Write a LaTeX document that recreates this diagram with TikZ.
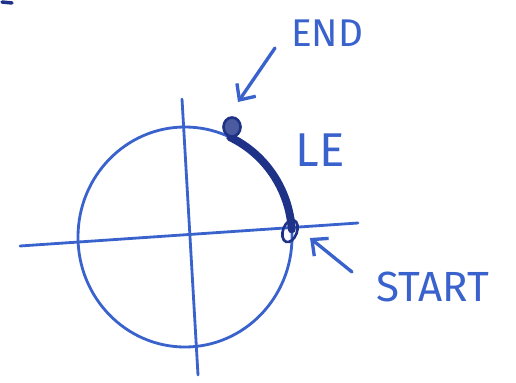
\documentclass[tikz,border=0pt]{standalone}
\usepackage{fontspec}
\setsansfont{Fira Sans}
\usetikzlibrary{shapes.geometric, arrows.meta, positioning}
\definecolor{penblue}{RGB}{58, 98, 205}
\definecolor{inkblue}{RGB}{30, 50, 135}

\begin{document}
\begin{tikzpicture}[
  x=0.02cm, y=0.02cm,
  stroke/.style={draw=penblue, line width=1.6pt, line cap=round},
  pointer/.style={draw=penblue, line width=1.9pt, line cap=round, -{Straight Barb[length=7pt, width=13pt, line width=1.9pt]}},
  marker/.style={ellipse, draw=inkblue, line width=1.5pt, inner sep=0pt},
  label/.style={text=penblue, font=\sffamily, inner sep=0pt}
]
  \useasboundingbox (0,0) rectangle (516,382);
  % axes and circle
  \coordinate (O) at (185,145);
  \draw[stroke] (O) ellipse[x radius=107, y radius=110];
  \coordinate (xleft) at (20,136);
  \coordinate (xright) at (358,159);
  \draw[stroke] (xleft) -- (xright);
  \coordinate (ytop) at (182,283);
  \coordinate (ybot) at (198,7);
  \draw[stroke] (ytop) -- (ybot);
  % thick arc from start to end
  \draw[draw=inkblue, line width=4.5pt, line cap=round] (O) ++(4:107 and 110) arc[start angle=4, end angle=65, x radius=107, y radius=110];
  \node[marker, minimum width=0.28cm, minimum height=0.46cm, rotate=-20] (startpt) at (290,151) {};
  \node[marker, fill=inkblue!80, minimum width=0.34cm, minimum height=0.38cm] (endpt) at (232,255) {};
  % labels
  \node[label, font=\sffamily\fontsize{22}{24}\selectfont] (endlbl) at (327,349) {END};
  \node[label, font=\sffamily\fontsize{27}{29}\selectfont] (lelbl) at (320,232) {LE};
  \node[label, font=\sffamily\fontsize{24}{26}\selectfont] (startlbl) at (433,95) {START};
  \coordinate (endtail) at (275,334);
  \coordinate (endtip) at (238,280);
  \draw[pointer] (endtail) -- (endtip);
  \coordinate (starttail) at (352,110);
  \coordinate (starttip) at (310,144);
  \draw[pointer] (starttail) -- (starttip);
  % stray mark
  \coordinate (marka) at (2,380);
  \coordinate (markb) at (12,379);
  \draw[draw=inkblue, line width=2pt, line cap=round] (marka) -- (markb);
\end{tikzpicture}
\end{document}
